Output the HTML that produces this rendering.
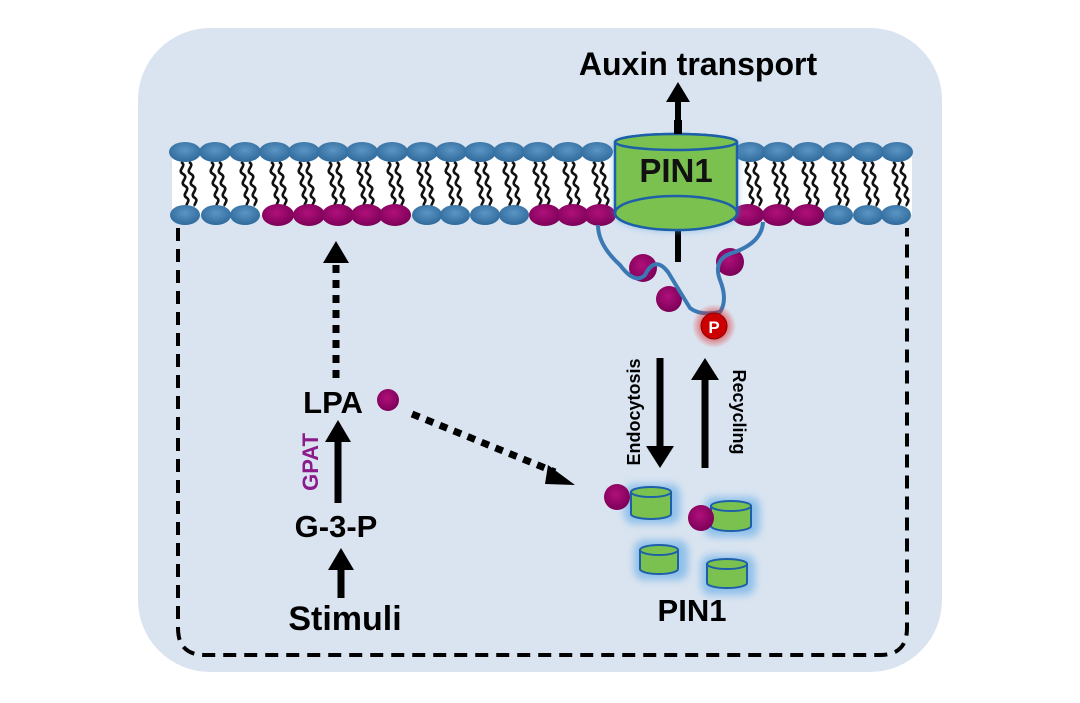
<!DOCTYPE html>
<html><head><style>body{margin:0;background:#fff}svg{display:block}</style></head><body>
<svg width="1080" height="703" viewBox="0 0 1080 703" xmlns="http://www.w3.org/2000/svg" font-family="Liberation Sans, sans-serif" font-weight="bold">
<defs>
<radialGradient id="bh" cx="50%" cy="40%" r="60%"><stop offset="0" stop-color="#5b95c4"/><stop offset="1" stop-color="#2f6a9c"/></radialGradient>
<radialGradient id="mh" cx="45%" cy="40%" r="60%"><stop offset="0" stop-color="#b0107a"/><stop offset="1" stop-color="#7c0058"/></radialGradient>
<radialGradient id="pg" cx="50%" cy="50%" r="50%"><stop offset="0.45" stop-color="#e02020"/><stop offset="1" stop-color="#e02020" stop-opacity="0"/></radialGradient>
<filter id="glow" x="-30%" y="-30%" width="160%" height="160%"><feGaussianBlur stdDeviation="4"/></filter>
<path id="t" d="M-4,162 c7,4 -5,8 2,12 c7,4 -5,8 2,12 c7,4 -5,8 2,12 c4,3 -2,6 0,8 M4,162 c7,4 -5,8 2,12 c7,4 -5,8 2,12 c7,4 -5,8 2,12 c4,3 -2,6 0,8" fill="none" stroke="#111" stroke-width="2.6"/>
</defs>
<rect x="138" y="28" width="804" height="644" rx="72" fill="#dae4f0"/>
<rect x="172" y="152" width="740" height="63" fill="#fff"/>
<g>
<use href="#t" x="185"/><use href="#t" x="215"/><use href="#t" x="245"/><use href="#t" x="275"/><use href="#t" x="303"/><use href="#t" x="333"/><use href="#t" x="362"/><use href="#t" x="392"/><use href="#t" x="422"/><use href="#t" x="450"/><use href="#t" x="480"/><use href="#t" x="508"/><use href="#t" x="538"/><use href="#t" x="568"/><use href="#t" x="597"/>
<use href="#t" x="750"/><use href="#t" x="777"/><use href="#t" x="807"/><use href="#t" x="837"/><use href="#t" x="867"/><use href="#t" x="897"/>
</g>
<g fill="url(#bh)">
<ellipse cx="185" cy="152" rx="16" ry="10"/><ellipse cx="215" cy="152" rx="16" ry="10"/><ellipse cx="245" cy="152" rx="16" ry="10"/><ellipse cx="275" cy="152" rx="16" ry="10"/><ellipse cx="304" cy="152" rx="16" ry="10"/><ellipse cx="333" cy="152" rx="16" ry="10"/><ellipse cx="362" cy="152" rx="16" ry="10"/><ellipse cx="392" cy="152" rx="16" ry="10"/><ellipse cx="422" cy="152" rx="16" ry="10"/><ellipse cx="451" cy="152" rx="16" ry="10"/><ellipse cx="480" cy="152" rx="16" ry="10"/><ellipse cx="509" cy="152" rx="16" ry="10"/><ellipse cx="538" cy="152" rx="16" ry="10"/><ellipse cx="568" cy="152" rx="16" ry="10"/><ellipse cx="597" cy="152" rx="16" ry="10"/>
<ellipse cx="750" cy="152" rx="16" ry="10"/><ellipse cx="778" cy="152" rx="16" ry="10"/><ellipse cx="808" cy="152" rx="16" ry="10"/><ellipse cx="838" cy="152" rx="16" ry="10"/><ellipse cx="868" cy="152" rx="16" ry="10"/><ellipse cx="897" cy="152" rx="16" ry="10"/>
<ellipse cx="185" cy="215" rx="15" ry="10"/><ellipse cx="216" cy="215" rx="15" ry="10"/><ellipse cx="245" cy="215" rx="15" ry="10"/>
<ellipse cx="427" cy="215" rx="15" ry="10"/><ellipse cx="455" cy="215" rx="15" ry="10"/><ellipse cx="485" cy="215" rx="15" ry="10"/><ellipse cx="514" cy="215" rx="15" ry="10"/>
<ellipse cx="838" cy="215" rx="15" ry="10"/><ellipse cx="868" cy="215" rx="15" ry="10"/><ellipse cx="896" cy="215" rx="15" ry="10"/>
</g>
<g fill="url(#mh)">
<ellipse cx="278" cy="215" rx="16" ry="11"/><ellipse cx="309" cy="215" rx="16" ry="11"/><ellipse cx="338" cy="215" rx="16" ry="11"/><ellipse cx="367" cy="215" rx="16" ry="11"/><ellipse cx="395" cy="215" rx="16" ry="11"/>
<ellipse cx="545" cy="215" rx="16" ry="11"/><ellipse cx="573" cy="215" rx="16" ry="11"/><ellipse cx="600" cy="215" rx="16" ry="11"/>
<ellipse cx="748" cy="215" rx="16" ry="11"/><ellipse cx="778" cy="215" rx="16" ry="11"/><ellipse cx="808" cy="215" rx="16" ry="11"/>
</g>
<path d="M178,228 V628 Q178,655 205,655 H880 Q907,655 907,628 V228" fill="none" stroke="#000" stroke-width="4" stroke-dasharray="13,8"/>
<line x1="678" y1="262" x2="678" y2="100" stroke="#000" stroke-width="6"/>
<path d="M666,102 L678,82 L690,102z" fill="#000"/>
<text x="698" y="75" font-size="32" text-anchor="middle">Auxin transport</text>
<g>
<path d="M615,142 V213 A61,17 0 0 0 737,213 V142z" fill="#5aa6e0" filter="url(#glow)" opacity="0.8"/>
<path d="M615,142 V213 A61,17 0 0 0 737,213 V142 A61,8 0 0 0 615,142z" fill="#7bc14f" stroke="#1d5fa8" stroke-width="2.5"/>
<path d="M615,213 A61,17 0 0 1 737,213" fill="none" stroke="#1d5fa8" stroke-width="2.5"/>
<ellipse cx="676" cy="142" rx="61" ry="8" fill="#7bc14f" stroke="#1d5fa8" stroke-width="2.5"/>
<rect x="674" y="120" width="8" height="14" fill="#000"/>
<text x="676" y="182" font-size="33" text-anchor="middle" fill="#111">PIN1</text>
</g>
<circle cx="643" cy="268" r="14" fill="url(#mh)"/>
<circle cx="730" cy="262" r="14" fill="url(#mh)"/>
<circle cx="669" cy="299" r="13" fill="url(#mh)"/>
<path d="M598,225 Q598,245 620,265 Q635,285 645,275 Q655,255 668,272 Q685,300 690,308 Q700,316 720,312 Q728,300 720,280 Q712,258 735,252 Q762,242 763,222" fill="none" stroke="#3b79b5" stroke-width="4"/>
<circle cx="714" cy="326" r="22" fill="url(#pg)" opacity="0.7"/>
<circle cx="714" cy="326" r="13" fill="#c00" stroke="#800" stroke-width="1"/>
<text x="714" y="333" font-size="17" text-anchor="middle" fill="#fff">P</text>
<line x1="336" y1="378" x2="336" y2="262" stroke="#000" stroke-width="7" stroke-dasharray="8,7"/>
<path d="M323,263 L336,241 L349,263z" fill="#000"/>
<text x="333" y="413" font-size="31" text-anchor="middle">LPA</text>
<circle cx="388" cy="400" r="11" fill="url(#mh)"/>
<line x1="412" y1="414" x2="555" y2="472" stroke="#000" stroke-width="7" stroke-dasharray="8,7"/>
<path d="M548,465 L575,485 L545,484z" fill="#000"/>
<line x1="338" y1="503" x2="338" y2="440" stroke="#000" stroke-width="7"/>
<path d="M325,442 L338,420 L351,442z" fill="#000"/>
<text transform="translate(318,462) rotate(-90)" font-size="22" text-anchor="middle" fill="#8b1a8b">GPAT</text>
<text x="336" y="537" font-size="31" text-anchor="middle">G-3-P</text>
<line x1="341" y1="598" x2="341" y2="568" stroke="#000" stroke-width="7"/>
<path d="M328,570 L341,548 L354,570z" fill="#000"/>
<text x="345" y="630" font-size="34" text-anchor="middle">Stimuli</text>
<line x1="660" y1="358" x2="660" y2="448" stroke="#000" stroke-width="7"/>
<path d="M646,446 L660,468 L674,446z" fill="#000"/>
<text transform="translate(640,412) rotate(-90)" font-size="18" text-anchor="middle">Endocytosis</text>
<line x1="705" y1="468" x2="705" y2="378" stroke="#000" stroke-width="7"/>
<path d="M691,380 L705,358 L719,380z" fill="#000"/>
<text transform="translate(733,412) rotate(90)" font-size="18" text-anchor="middle">Recycling</text>
<g stroke="#1d5fa8" stroke-width="2" fill="#7bc14f">
<rect x="624" y="484" width="56" height="40" rx="10" fill="#8ec0ea" stroke="none" filter="url(#glow)"/>
<path d="M631,492 V514 A20,5 0 0 0 671,514 V492z"/><ellipse cx="651" cy="492" rx="20" ry="5"/>
<rect x="704" y="497" width="56" height="40" rx="10" fill="#8ec0ea" stroke="none" filter="url(#glow)"/>
<path d="M711,506 V526 A20,5 0 0 0 751,526 V506z"/><ellipse cx="731" cy="506" rx="20" ry="5"/>
<rect x="634" y="540" width="54" height="40" rx="10" fill="#8ec0ea" stroke="none" filter="url(#glow)"/>
<path d="M640,550 V569 A19,5 0 0 0 678,569 V550z"/><ellipse cx="659" cy="550" rx="19" ry="5"/>
<rect x="701" y="555" width="54" height="40" rx="10" fill="#8ec0ea" stroke="none" filter="url(#glow)"/>
<path d="M707,564 V583 A20,5 0 0 0 747,583 V564z"/><ellipse cx="727" cy="564" rx="20" ry="5"/>
</g>
<circle cx="617" cy="497" r="13" fill="url(#mh)"/>
<circle cx="701" cy="518" r="13" fill="url(#mh)"/>
<text x="692" y="621" font-size="31" text-anchor="middle">PIN1</text>
</svg>
</body></html>
